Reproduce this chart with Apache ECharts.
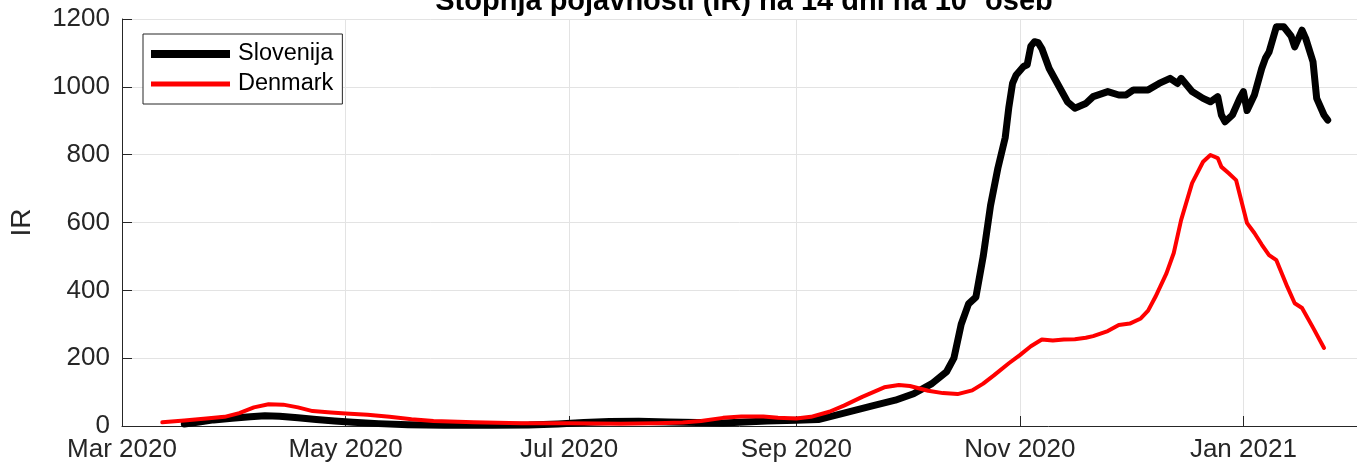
<!DOCTYPE html>
<html>
<head>
<meta charset="utf-8">
<script src="https://cdn.jsdelivr.net/npm/echarts@6/dist/echarts.min.js"></script>
<style>html,body{margin:0;padding:0;background:#fff;}#c{width:1357px;height:471px;}</style>
</head>
<body>
<div id="c"></div>
<script>
// ---- data ----
const sloDates = ['2020-03-18','2020-03-22','2020-03-26','2020-03-31','2020-04-05','2020-04-09','2020-04-13','2020-04-18','2020-04-23','2020-04-28','2020-05-03','2020-05-10','2020-05-18','2020-05-28','2020-06-10','2020-06-20','2020-06-28','2020-07-05','2020-07-12','2020-07-20','2020-07-28','2020-08-05','2020-08-12','2020-08-18','2020-08-24','2020-09-01','2020-09-07','2020-09-14','2020-09-22','2020-09-28','2020-10-03','2020-10-08','2020-10-12','2020-10-14','2020-10-16','2020-10-17','2020-10-18','2020-10-20','2020-10-22','2020-10-24','2020-10-26','2020-10-28','2020-10-29','2020-10-30','2020-10-31','2020-11-02','2020-11-03','2020-11-04','2020-11-05','2020-11-06','2020-11-07','2020-11-09','2020-11-12','2020-11-14','2020-11-16','2020-11-19','2020-11-21','2020-11-25','2020-11-28','2020-11-30','2020-12-02','2020-12-06','2020-12-09','2020-12-12','2020-12-14','2020-12-15','2020-12-18','2020-12-21','2020-12-23','2020-12-25','2020-12-26','2020-12-27','2020-12-29','2020-12-31','2021-01-01','2021-01-02','2021-01-04','2021-01-06','2021-01-07','2021-01-08','2021-01-10','2021-01-12','2021-01-14','2021-01-15','2021-01-17','2021-01-18','2021-01-20','2021-01-21','2021-01-23','2021-01-24'];
const sloValues = [6,12,18,23,27,30,29,24,19,15,11,7,4,2,2,3,6,10,13,14,12,10,9,12,15,17,19,38,60,76,95,125,160,200,300,330,360,380,500,650,760,850,940,1010,1035,1060,1065,1120,1133,1130,1113,1054,995,956,937,951,971,986,976,976,991,991,1010,1025,1010,1025,986,966,956,971,917,897,917,966,986,930,976,1054,1084,1103,1177,1177,1150,1118,1167,1143,1074,966,917,902];

const denDates = ['2020-03-12','2020-03-18','2020-03-24','2020-03-29','2020-04-02','2020-04-06','2020-04-10','2020-04-14','2020-04-18','2020-04-22','2020-04-27','2020-05-01','2020-05-07','2020-05-13','2020-05-19','2020-05-25','2020-06-05','2020-06-18','2020-07-01','2020-07-15','2020-07-25','2020-08-01','2020-08-06','2020-08-12','2020-08-17','2020-08-23','2020-08-27','2020-09-01','2020-09-05','2020-09-10','2020-09-14','2020-09-19','2020-09-25','2020-09-29','2020-10-02','2020-10-07','2020-10-11','2020-10-15','2020-10-19','2020-10-22','2020-10-25','2020-10-29','2020-11-01','2020-11-04','2020-11-07','2020-11-10','2020-11-13','2020-11-16','2020-11-19','2020-11-21','2020-11-25','2020-11-28','2020-12-01','2020-12-04','2020-12-06','2020-12-08','2020-12-11','2020-12-13','2020-12-15','2020-12-18','2020-12-21','2020-12-23','2020-12-25','2020-12-26','2020-12-28','2020-12-30','2021-01-02','2021-01-04','2021-01-06','2021-01-08','2021-01-10','2021-01-13','2021-01-15','2021-01-17','2021-01-20','2021-01-23'];
const denValues = [11,16,22,27,38,55,64,63,55,44,40,37,33,27,20,15,11,8,8,7,8,10,15,24,28,28,24,22,27,42,60,86,114,121,118,104,97,94,105,125,150,185,209,235,255,252,255,256,260,265,280,298,302,317,340,381,450,510,607,716,779,799,790,764,745,725,598,569,535,504,489,410,362,348,290,230];

const seriesNames = ['Slovenija', 'Denmark'];
const tickDates = ['2020-03-01','2020-05-01','2020-07-01','2020-09-01','2020-11-01','2021-01-01'];
const tickLabels = ['Mar 2020','May 2020','Jul 2020','Sep 2020','Nov 2020','Jan 2021'];
const yTicks = [0,200,400,600,800,1000,1200];
const titleText = 'Stopnja pojavnosti (IR) na 14 dni na 10{sup|5} oseb';
const yName = 'IR';
const xMin = '2020-03-01', xMax = '2021-02-01';

function ts(s){ const p = s.split('-'); return Date.UTC(+p[0], +p[1]-1, +p[2]); }
const tickTs = tickDates.map(ts);
function pairs(d, v){ return d.map((x,i)=>[ts(x), v[i]]); }
function tickName(v){ let best=0, bd=Infinity; tickTs.forEach((t,i)=>{const dd=Math.abs(t-v); if(dd<bd){bd=dd;best=i;}}); return tickLabels[best]; }

const FONT = '"Liberation Sans", Arial, Helvetica, sans-serif';
const GRID_L = 120, GRID_W = 1238;
const chart = echarts.init(document.getElementById('c'), null, {renderer:'canvas'});
chart.setOption({
  backgroundColor: '#fff',
  animation: false,
  title: {
    text: titleText,
    left: GRID_L + GRID_W / 2,
    textAlign: 'center',
    top: -19,
    textStyle: { fontFamily: FONT, fontSize: 29, fontWeight: 'bold', color: '#000',
      rich: { sup: { fontFamily: FONT, fontSize: 18, fontWeight: 'bold', color: '#000', padding:[0,0,13,0] } } }
  },
  grid: { left: GRID_L, top: 19, width: GRID_W, height: 407, containLabel: false },
  legend: {
    orient: 'vertical', left: 143, top: 34,
    padding: [8, 9, 8, 8],
    backgroundColor: '#fff', borderColor: '#262626', borderWidth: 1, borderRadius: 0,
    itemWidth: 79, itemHeight: 14, itemGap: 6,
    textStyle: { fontFamily: FONT, fontSize: 23.5, color: '#000', padding: [0,0,0,3] },
    data: [
      { name: seriesNames[0], icon: 'path://M0,0H79V8H0Z', itemStyle: { color: '#000' } },
      { name: seriesNames[1], icon: 'path://M0,0H79V5H0Z', itemStyle: { color: '#ff0000' } }
    ]
  },
  xAxis: {
    type: 'value', min: ts(xMin), max: ts(xMax), scale: true,
    axisLine: { show: true, lineStyle: { color: '#262626', width: 1 } },
    axisTick: { show: true, inside: true, length: 10, customValues: tickTs, lineStyle: { color: '#262626' } },
    axisLabel: { customValues: tickTs, fontFamily: FONT, fontSize: 26, color: '#262626', margin: 11,
      showMinLabel: true, showMaxLabel: true, hideOverlap: false, formatter: tickName },
    splitLine: { show: true, lineStyle: { color: '#e3e3e3', width: 1 } }
  },
  yAxis: {
    type: 'value', min: yTicks[0], max: yTicks[yTicks.length-1], interval: 200,
    name: yName, nameLocation: 'middle', nameGap: 86,
    nameTextStyle: { fontFamily: FONT, fontSize: 28, color: '#262626' },
    axisLine: { show: true, lineStyle: { color: '#262626', width: 1 } },
    axisTick: { show: true, inside: true, length: 10, lineStyle: { color: '#262626' } },
    axisLabel: { fontFamily: FONT, fontSize: 26, color: '#262626', margin: 12, formatter: function(v){ return String(v); } },
    splitLine: { show: true, lineStyle: { color: '#e3e3e3', width: 1 } }
  },
  series: [
    { name: seriesNames[0], type: 'line', data: pairs(sloDates, sloValues), symbol: 'none', smooth: false,
      lineStyle: { color: '#000', width: 7, join: 'round', cap: 'round' }, itemStyle: { color: '#000' } },
    { name: seriesNames[1], type: 'line', data: pairs(denDates, denValues), symbol: 'none', smooth: false,
      lineStyle: { color: '#ff0000', width: 4, join: 'round', cap: 'round' }, itemStyle: { color: '#ff0000' } }
  ]
});
</script>
</body>
</html>
